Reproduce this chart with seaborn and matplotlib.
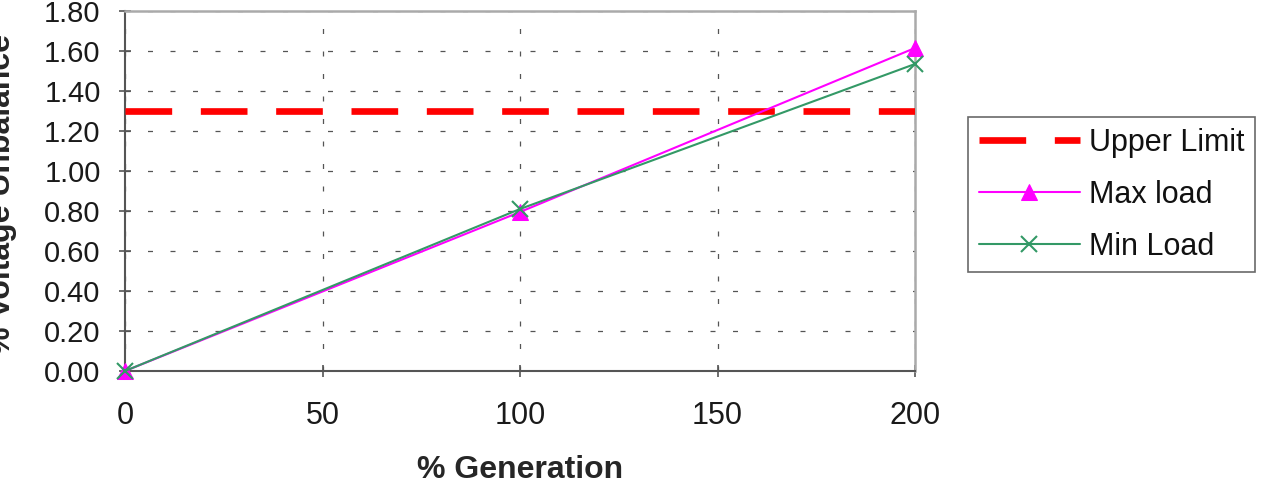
import matplotlib
matplotlib.use("Agg")
import matplotlib.pyplot as plt
import seaborn as sns
import pandas as pd

generation = [0, 100, 200]
max_load = [0.00, 0.795, 1.615]
min_load = [0.00, 0.81, 1.535]
upper_limit = 1.30
x_ticks = [0, 50, 100, 150, 200]
y_ticks = [0.0, 0.2, 0.4, 0.6, 0.8, 1.0, 1.2, 1.4, 1.6, 1.8]

sns.set_theme(style="white")
plt.rcParams['font.family'] = ['Liberation Sans', 'DejaVu Sans']

fig = plt.figure(figsize=(12.66, 4.87), dpi=100)
ax = fig.add_axes([125/1266, 1 - 371/487, (915-125)/1266, (371-11)/487])

df_max = pd.DataFrame({"x": generation, "y": max_load})
df_min = pd.DataFrame({"x": generation, "y": min_load})

ax.axhline(upper_limit, color="#ff0000", lw=4.8, dashes=(7.0, 4.3), label="Upper Limit", zorder=3)
sns.lineplot(data=df_max, x="x", y="y", ax=ax, color="#ff00ff", lw=1.5, marker="^",
             markersize=12, markeredgecolor="#ff00ff", label="Max load", zorder=4, clip_on=False)
sns.lineplot(data=df_min, x="x", y="y", ax=ax, color="#339966", lw=1.5, marker="x",
             markersize=11, markeredgewidth=1.5, markeredgecolor="#339966", label="Min Load",
             zorder=5, clip_on=False)

ax.set_xlim(0, 200)
ax.set_ylim(0, 1.8)
ax.set_xticks(x_ticks)
ax.set_yticks(y_ticks)
ax.set_yticklabels([f"{v:.2f}" for v in y_ticks])
ax.tick_params(axis="both", labelsize=21, colors="#555555", labelcolor="#1a1a1a")
ax.tick_params(axis="y", direction="inout", length=9, width=1.2, pad=13, left=True)
ax.tick_params(axis="x", direction="inout", length=9, width=1.2, pad=17, bottom=True, labelsize=22)

ax.grid(True, color="#555555", lw=0.9, linestyle=(0, (4, 14)))
for s in ["left", "bottom"]:
    ax.spines[s].set_color("#555555")
    ax.spines[s].set_linewidth(1.5)
for s in ["top", "right"]:
    ax.spines[s].set_color("#aaaaaa")
    ax.spines[s].set_linewidth(1.8)

ax.set_xlabel("% Generation", fontsize=23, fontweight="bold")
ax.xaxis.set_label_coords(0.5, (371 - 455) / 360)
ax.xaxis.label.set_va("top")
ax.set_ylabel("% Voltage Unbalance", fontsize=23, fontweight="bold")
ax.yaxis.set_label_coords((17 - 125) / 790, 0.49)

leg = ax.legend(loc="upper left", bbox_to_anchor=(968/1266, 1 - 117/487), bbox_transform=fig.transFigure,
                fontsize=22, frameon=True, fancybox=False, edgecolor="#444444", handlelength=3.3,
                borderpad=0.35, labelspacing=0.72, handletextpad=0.3, borderaxespad=0)
leg.get_frame().set_linewidth(1.2)
for t in leg.get_texts():
    t.set_color("#111111")

fig.savefig("out.png", dpi=100)
